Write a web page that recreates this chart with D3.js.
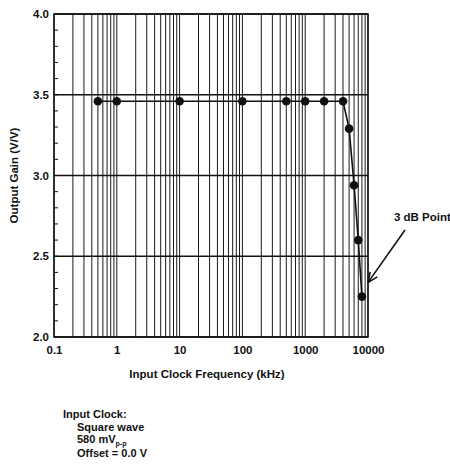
<!DOCTYPE html>
<html>
<head>
<meta charset="utf-8">
<script src="https://cdn.jsdelivr.net/npm/d3@7"></script>
<style>
  body { margin: 0; background: #fff; }
  svg text { font-family: "Liberation Sans", Arial, sans-serif; font-weight: bold; fill: #111; }
</style>
</head>
<body>
<svg id="chart" width="450" height="466"></svg>
<script>
// measured points
const freqKHz = [0.5, 1, 10, 100, 500, 1000, 2000, 4000, 5000, 6000, 7000, 8000];
const gainVV = [3.46, 3.46, 3.46, 3.46, 3.46, 3.46, 3.46, 3.46, 3.29, 2.94, 2.60, 2.25];

const xTickValues = [0.1, 1, 10, 100, 1000, 10000];
const xTickLabels = ['0.1', '1', '10', '100', '1000', '10000'];
const yTickValues = [2.0, 2.5, 3.0, 3.5, 4.0];
const yTickLabels = ['2.0', '2.5', '3.0', '3.5', '4.0'];

const notes = ['Input Clock:', 'Square wave', '580 mV', 'Offset = 0.0 V'];

const margin = { top: 14, left: 54 };
const width = 314, height = 323;

const svg = d3.select('#chart');
const g = svg.append('g').attr('transform', `translate(${margin.left},${margin.top})`);

const x = d3.scaleLog().domain([0.1, 10000]).range([0, width]);
const y = d3.scaleLinear().domain([2, 4]).range([height, 0]);

// vertical log grid
g.append('g')
    .selectAll('line')
    .data(x.ticks())
    .enter()
    .append('line')
    .attr('x1', d => x(d)).attr('x2', d => x(d))
    .attr('y1', 0).attr('y2', height)
    .attr('stroke', '#1a1a1a')
    .attr('stroke-width', 1);

// horizontal grid at major ticks
g.append('g')
    .selectAll('line')
    .data(yTickValues)
    .enter()
    .append('line')
    .attr('x1', 0).attr('x2', width)
    .attr('y1', d => y(d)).attr('y2', d => y(d))
    .attr('stroke', '#111')
    .attr('stroke-width', 1.4);

// minor y ticks, inside
g.append('g')
    .selectAll('line')
    .data(y.ticks(20))
    .enter()
    .append('line')
    .attr('x1', 0).attr('x2', 4)
    .attr('y1', d => y(d)).attr('y2', d => y(d))
    .attr('stroke', '#111')
    .attr('stroke-width', 1);

// frame
g.append('rect')
    .attr('width', width).attr('height', height)
    .attr('fill', 'none')
    .attr('stroke', '#111')
    .attr('stroke-width', 1.5);

// axes (labels only)
const xAxis = g.append('g')
    .attr('transform', `translate(0,${height})`)
    .call(d3.axisBottom(x).tickValues(xTickValues).tickFormat((d, i) => xTickLabels[i]).tickSize(0).tickPadding(9));
const yAxis = g.append('g')
    .call(d3.axisLeft(y).tickValues(yTickValues).tickFormat((d, i) => yTickLabels[i]).tickSize(0).tickPadding(5));
[xAxis, yAxis].forEach(a => {
    a.select('.domain').remove();
    a.selectAll('text').style('font-size', '11.5px').style('fill', '#111');
});

// data line + dots
const pts = freqKHz.map((f, i) => [f, gainVV[i]]);
g.append('path')
    .datum(pts)
    .attr('fill', 'none')
    .attr('stroke', '#111')
    .attr('stroke-width', 1.6)
    .attr('d', d3.line().x(d => x(d[0])).y(d => y(d[1])));
g.selectAll('.dot')
    .data(pts)
    .enter()
    .append('circle')
    .attr('class', 'dot')
    .attr('cx', d => x(d[0]))
    .attr('cy', d => y(d[1]))
    .attr('r', 4.3)
    .attr('fill', '#111');

// axis titles
svg.append('text')
    .attr('x', margin.left + width / 2 - 4)
    .attr('y', 378)
    .attr('text-anchor', 'middle')
    .style('font-size', '11.5px')
    .text('Input Clock Frequency (kHz)');
svg.append('text')
    .attr('transform', `translate(18,${margin.top + height / 2}) rotate(-90)`)
    .attr('text-anchor', 'middle')
    .style('font-size', '11.5px')
    .text('Output Gain (V/V)');

// 3 dB annotation
const last = pts[pts.length - 1];
const tipX = margin.left + x(last[0]) + 6, tipY = margin.top + y(last[1]) - 14;
svg.append('text')
    .attr('x', 394).attr('y', 221)
    .style('font-size', '11.5px')
    .text('3 dB Point');
svg.append('line')
    .attr('x1', 405).attr('y1', 230)
    .attr('x2', tipX).attr('y2', tipY)
    .attr('stroke', '#111').attr('stroke-width', 1.6);
const ang = Math.atan2(tipY - 230, tipX - 405);
const headLen = 11;
[-0.4, 0.4].forEach(da => {
    svg.append('line')
        .attr('x1', tipX).attr('y1', tipY)
        .attr('x2', tipX - headLen * Math.cos(ang + da))
        .attr('y2', tipY - headLen * Math.sin(ang + da))
        .attr('stroke', '#111').attr('stroke-width', 1.6);
});

// notes below chart
const nt = svg.append('g').style('font-size', '11px');
nt.append('text').attr('x', 63).attr('y', 418).text(notes[0]);
nt.append('text').attr('x', 77).attr('y', 430.5).text(notes[1]);
const vpp = nt.append('text').attr('x', 77).attr('y', 443).text(notes[2]);
vpp.append('tspan').attr('dy', 2.5).style('font-size', '7px').text('p-p');
nt.append('text').attr('x', 77).attr('y', 456.5).text(notes[3]);
</script>
</body>
</html>
